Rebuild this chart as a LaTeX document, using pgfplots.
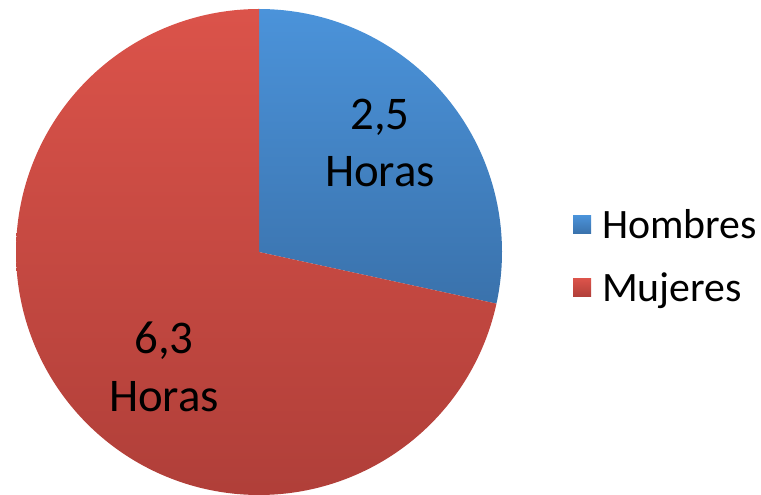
\documentclass[border=0pt]{standalone}
\usepackage{pgfplots}
\usepackage{pgfplotstable}
\pgfplotsset{compat=1.18}
\usepackage{fontspec}
\setmainfont{Carlito}
\definecolor{bTop}{RGB}{75,147,218}
\definecolor{bBot}{RGB}{58,114,172}
\definecolor{rTop}{RGB}{219,83,74}
\definecolor{rBot}{RGB}{176,63,57}
\pgfplotstableread{
label value
Hombres 2.5
Mujeres 6.3
}\piedata
\pgfplotstablegetelem{0}{value}\of\piedata \let\vH\pgfplotsretval
\pgfplotstablegetelem{1}{value}\of\piedata \let\vM\pgfplotsretval
\pgfmathsetmacro\aH{360*\vH/(\vH+\vM)}
\pgfmathsetmacro\aEnd{90-\aH}
\pgfmathsetmacro\aStart{90-360}
\begin{document}
\begin{tikzpicture}
\begin{axis}[
  scale only axis, width=761bp, height=495bp,
  xmin=0, xmax=761, ymin=0, ymax=495,
  hide axis, clip=false,
  legend style={draw=none, fill=none, font=\fontsize{42}{42}\selectfont,
    at={(axis cs:570,239)}, anchor=west, row sep=33bp,
    nodes={inner sep=0bp}},
  legend cell align=left,
  legend image code/.code={\path[#1] (0bp,-9bp) rectangle (18bp,9bp); \path (0bp,0bp) -- (29bp,0bp);},
]
\path (axis cs:0,0) rectangle (axis cs:761,495);
\addplot[draw=none, top color=bTop, bottom color=bBot, domain=\aEnd:90, samples=150, variable=\t, forget plot]
  ({259+243*cos(t)},{243+243*sin(t)}) -- (axis cs:259,243) -- cycle;
\addplot[draw=none, top color=rTop, bottom color=rBot, domain=\aStart:\aEnd, samples=300, variable=\t, forget plot]
  ({259+243*cos(t)},{243+243*sin(t)}) -- (axis cs:259,243) -- cycle;
\addlegendimage{top color=bTop, bottom color=bBot, draw=none}
\addlegendentry{Hombres}
\addlegendimage{top color=rTop, bottom color=rBot, draw=none}
\addlegendentry{Mujeres}
\node[align=center, font=\fontsize{47}{58}\selectfont] at (axis cs:380,352) {2,5\\Horas};
\node[align=center, font=\fontsize{47}{58}\selectfont] at (axis cs:164,128) {6,3\\Horas};
\end{axis}
\end{tikzpicture}
\end{document}
